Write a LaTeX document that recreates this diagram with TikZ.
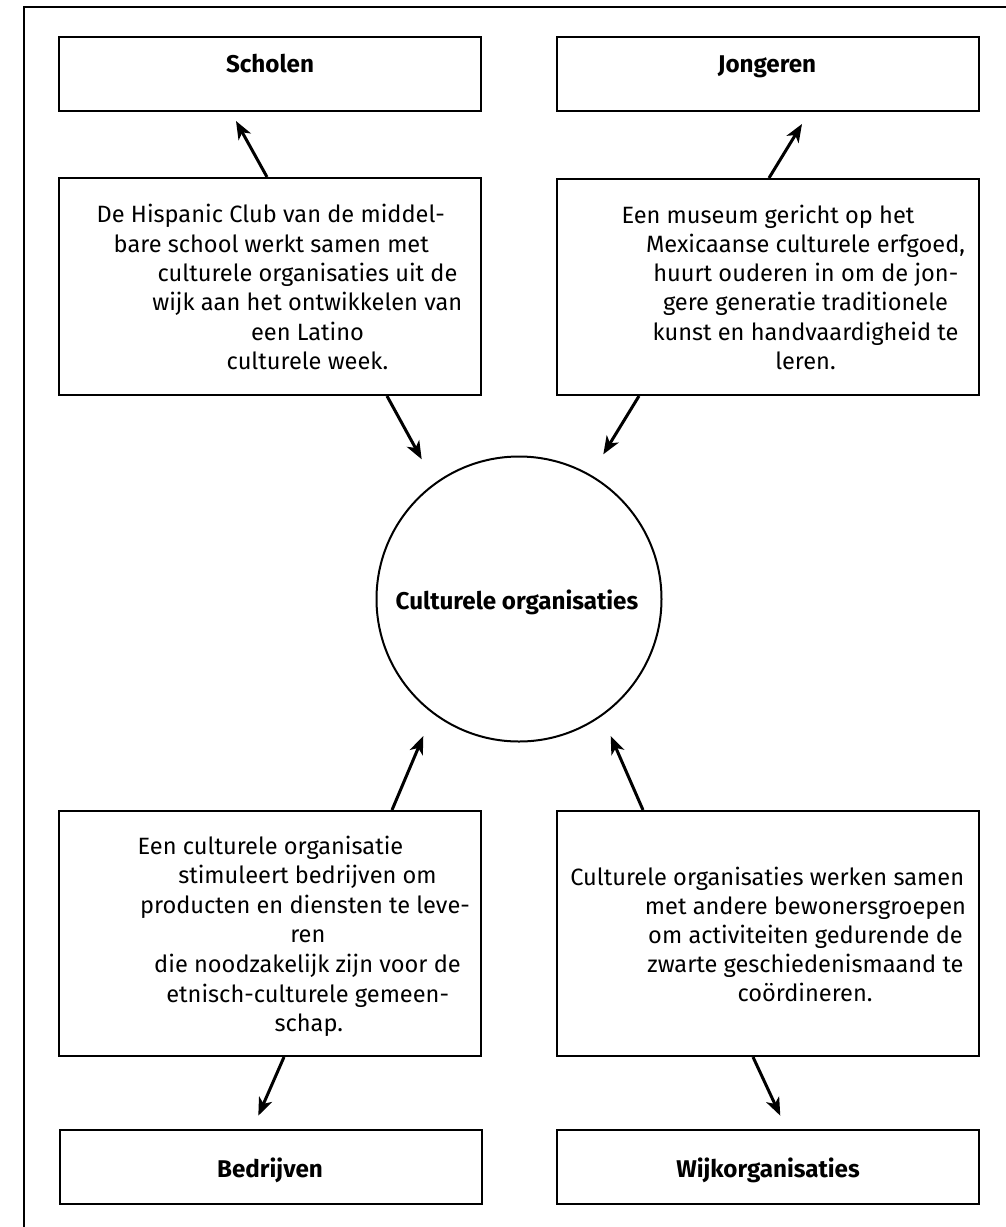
\documentclass[tikz,border=0pt]{standalone}
\usepackage{fontspec}
\setmainfont{Fira Sans}
\usetikzlibrary{arrows.meta}
\begin{document}
\begin{tikzpicture}[x=1pt,y=-1pt,
  box/.style={draw=black,line width=2pt,rectangle,inner sep=0pt,fill=none},
  smallbox/.style={box,minimum width=422pt,minimum height=74pt},
  bigbox/.style={box,minimum width=422pt},
  ring/.style={draw=black,line width=2pt,circle,inner sep=0pt,minimum size=285pt},
  txt/.style={inner sep=0pt,anchor=base,font=\fontsize{23.6}{28}\selectfont},
  lbl/.style={inner sep=0pt,anchor=base,font=\fontsize{24.2}{28}\selectfont\bfseries},
  arr/.style={line width=3pt,-{Stealth[length=18pt,width=14pt,inset=5pt]}}
]
\useasboundingbox (0,0) rectangle (1006,1227);
\draw[line width=2pt] (24,1230) -- (24,7) -- (1010,7);

% top small boxes
\node[smallbox] (scholen) at (270,73.75) {};
\node[lbl] (scholenT) at (270,72.7) {Scholen};
\node[smallbox] (jongeren) at (767.5,73.75) {};
\node[lbl] (jongerenT) at (767,72.7) {Jongeren};

% top text boxes
\node[bigbox,minimum height=217pt] (tlbox) at (270,286.5) {};
\node[txt] (tl1) at (270.7,222.7) {De Hispanic Club van de middel-};
\node[txt] (tl2) at (271.3,252.0) {bare school werkt samen met};
\node[txt] (tl3) at (307.5,281.4) {culturele organisaties uit de};
\node[txt] (tl4) at (307.3,310.8) {wijk aan het ontwikkelen van};
\node[txt] (tl5) at (307.5,340.2) {een Latino};
\node[txt] (tl6) at (307.5,369.5) {culturele week.};

\node[bigbox,minimum height=216pt] (trbox) at (767.5,287) {};
\node[txt] (tr1) at (768,223.0) {Een museum gericht op het};
\node[txt] (tr2) at (805.5,252.3) {Mexicaanse culturele erfgoed,};
\node[txt] (tr3) at (805.8,281.6) {huurt ouderen in om de jon-};
\node[txt] (tr4) at (805.5,310.9) {gere generatie traditionele};
\node[txt] (tr5) at (805.5,340.2) {kunst en handvaardigheid te};
\node[txt] (tr6) at (805.5,369.5) {leren.};

% centre circle
\node[ring] (centre) at (519,599) {};
\node[lbl] (centreT) at (517,609.3) {Culturele organisaties};

% bottom text boxes
\node[bigbox,minimum height=245pt] (blbox) at (270,933.5) {};
\node[txt] (bl1) at (270.5,854.0) {Een culturele organisatie};
\node[txt] (bl2) at (307.5,883.6) {stimuleert bedrijven om};
\node[txt] (bl3) at (305.0,913.2) {producten en diensten te leve-};
\node[txt] (bl4) at (307.8,942.8) {ren};
\node[txt] (bl5) at (307.5,972.4) {die noodzakelijk zijn voor de};
\node[txt] (bl6) at (307.7,1002.0) {etnisch-culturele gemeen-};
\node[txt] (bl7) at (308.8,1031.6) {schap.};

\node[bigbox,minimum height=245pt] (brbox) at (767.5,933.5) {};
\node[txt] (br1) at (767.2,885.0) {Culturele organisaties werken samen};
\node[txt] (br2) at (805.5,914.2) {met andere bewonersgroepen};
\node[txt] (br3) at (805.5,943.4) {om activiteiten gedurende de};
\node[txt] (br4) at (805.5,972.6) {zwarte geschiedenismaand te};
\node[txt] (br5) at (805.0,1001.8) {coördineren.};

% bottom small boxes
\node[smallbox] (bedrijven) at (270.5,1167) {};
\node[lbl] (bedrijvenT) at (270,1177.3) {Bedrijven};
\node[smallbox] (wijk) at (767.5,1167) {};
\node[lbl] (wijkT) at (768,1177.3) {Wijkorganisaties};

% arrow end points
\coordinate (tipS) at (236,121);
\coordinate (tipJ) at (802,124);
\coordinate (tipC1) at (421.7,459.3);
\coordinate (tipC2) at (603.3,454.3);
\coordinate (tipC3) at (423.3,736);
\coordinate (tipC4) at (610.7,736);
\coordinate (tipB) at (258.3,1115.7);
\coordinate (tipW) at (780.3,1115.7);

\draw[arr] ([xshift=-3pt]tlbox.north) -- (tipS);
\draw[arr] ([xshift=1.5pt]trbox.north) -- (tipJ);
\draw[arr] ([xshift=117pt]tlbox.south) -- (tipC1);
\draw[arr] ([xshift=-128.5pt]trbox.south) -- (tipC2);
\draw[arr] ([xshift=122pt]blbox.north) -- (tipC3);
\draw[arr] ([xshift=-124.5pt]brbox.north) -- (tipC4);
\draw[arr] ([xshift=14pt]blbox.south) -- (tipB);
\draw[arr] ([xshift=-14.5pt]brbox.south) -- (tipW);
\end{tikzpicture}
\end{document}
